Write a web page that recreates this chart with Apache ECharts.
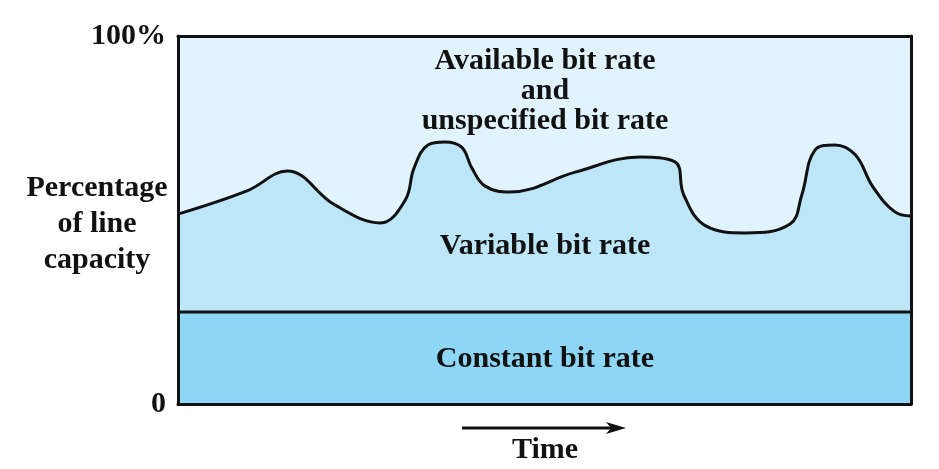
<!DOCTYPE html>
<html>
<head>
<meta charset="utf-8">
<title>Line capacity</title>
<script src="https://cdn.jsdelivr.net/npm/echarts@6/dist/echarts.min.js"></script>
<style>
  html, body { margin: 0; padding: 0; background: #fff; }
  #chart { width: 939px; height: 469px; }
</style>
</head>
<body>
<div id="chart"></div>
<script>
// time (0-100 across the box) and percentage of line capacity
const timeX = [0, 9.4, 14.9, 21.4, 27.6, 31.0, 32.2, 34.1, 36.4, 38.7, 40.1, 41.9, 45.3, 54.2, 63.0,
  67.8, 69.0, 72.0, 77.4, 83.5, 85.1, 86.9, 89.6, 92.4, 94.8, 97.8, 100]
const variableRate = [51.6, 57.9, 63.3, 54.1, 49.2, 55.4, 64.1, 70.4, 71.2, 69.8, 64.1, 59.2, 57.6, 63.0, 67.1,
  65.8, 56.8, 48.4, 46.5, 48.9, 56.8, 69.0, 70.4, 67.7, 59.0, 52.2, 51.1]
const constantRate = 25
const yTicks = { 0: '0', 100: '100%' }

const font = 'bold 30px "Liberation Serif"'
const chart = echarts.init(document.getElementById('chart'))

const lineAxis = {
  axisLine: { show: true, onZero: false, lineStyle: { color: '#111', width: 3 } },
  axisTick: { show: false },
  axisLabel: { show: false },
  splitLine: { show: false },
  z: 10
}

function label(text, x, y, lineHeight) {
  return {
    type: 'text',
    x: x,
    y: y,
    z: 20,
    style: {
      text: text,
      align: 'center',
      verticalAlign: 'middle',
      fill: '#111',
      font: font,
      lineHeight: lineHeight || 30
    }
  }
}

chart.setOption({
  animation: false,
  grid: {
    left: 178,
    right: 28,
    top: 36,
    bottom: 65,
    show: true,
    borderWidth: 0,
    backgroundColor: '#e1f4fd'
  },
  xAxis: [
    Object.assign({ type: 'value', min: 0, max: 100, position: 'bottom' }, lineAxis),
    Object.assign({ type: 'value', min: 0, max: 100, position: 'top' }, lineAxis)
  ],
  yAxis: [
    Object.assign({}, lineAxis, {
      type: 'value',
      min: 0,
      max: 100,
      interval: 100,
      position: 'left',
      axisLabel: {
        show: true,
        margin: 12,
        color: '#111',
        fontFamily: 'Liberation Serif',
        fontWeight: 'bold',
        fontSize: 30,
        formatter: v => yTicks[v]
      }
    }),
    Object.assign({ type: 'value', min: 0, max: 100, position: 'right' }, lineAxis)
  ],
  graphic: [
    label('Percentage\nof line\ncapacity', 97, 224, 36),
    label('Available bit rate\nand\nunspecified bit rate', 545, 91),
    label('Variable bit rate', 545, 246),
    label('Constant bit rate', 545, 359),
    // time arrow
    {
      type: 'line',
      shape: { x1: 462, y1: 428, x2: 612, y2: 428 },
      style: { stroke: '#111', lineWidth: 3 }
    },
    {
      type: 'polygon',
      shape: { points: [[626, 428], [606, 422], [611, 428], [606, 434]] },
      style: { fill: '#111' }
    },
    label('Time', 545, 450)
  ],
  series: [
    {
      name: 'Variable bit rate',
      type: 'line',
      data: timeX.map((x, i) => [x, variableRate[i]]),
      smooth: 0.4,
      showSymbol: false,
      lineStyle: { color: '#111', width: 3 },
      areaStyle: { color: '#bde6f8', opacity: 1 },
      z: 2
    },
    {
      name: 'Constant bit rate',
      type: 'line',
      data: [[0, constantRate], [100, constantRate]],
      showSymbol: false,
      lineStyle: { color: '#111', width: 3 },
      areaStyle: { color: '#8ed6f6', opacity: 1 },
      z: 3
    }
  ]
})
</script>
</body>
</html>
